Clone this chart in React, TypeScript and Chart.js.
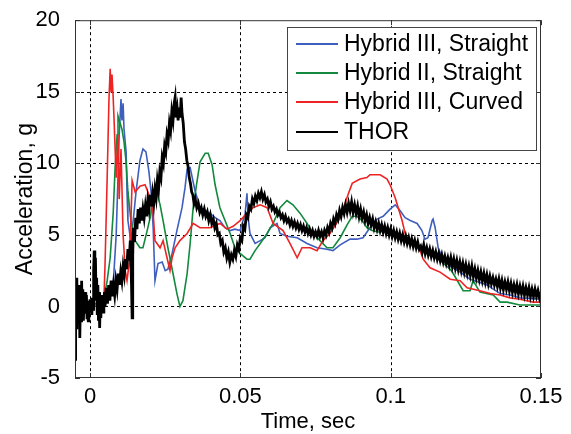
import React, { useEffect, useRef } from 'react';
import { Chart, registerables } from 'chart.js';

Chart.register(...registerables);

const FONT = '"Liberation Sans", Arial, sans-serif';

const xTicks = [0, 0.05, 0.1, 0.15];
const yTicks = [-5, 0, 5, 10, 15, 20];
const xTitle = 'Time, sec';
const yTitle = 'Acceleration, g';
const seriesNames = ['Hybrid III, Straight', 'Hybrid II, Straight', 'Hybrid III, Curved', 'THOR'];
const seriesColors = ['#3f5fbf', '#12893c', '#ee2424', '#000000'];

// [time (s), acceleration (g)]
const hybrid3Straight: [number, number][] = [
  [-0.005, 0.1], [0.0043, 0.0], [0.0057, 1.0], [0.0077, 1.5], [0.0087, 5.0], [0.0093, 9.0], [0.0097, 12.0],
  [0.0103, 14.5], [0.0106, 13.0], [0.011, 14.2], [0.0113, 12.4], [0.012, 10.8], [0.0123, 8.0], [0.0126, 6.0],
  [0.0136, 4.5], [0.0146, 6.5], [0.0153, 8.0], [0.0166, 10.2], [0.0176, 11.0], [0.0186, 10.8], [0.0196, 9.4],
  [0.0203, 8.0], [0.021, 5.5], [0.0216, 1.8], [0.0226, 3.0], [0.024, 3.1], [0.025, 2.5], [0.0259, 2.6],
  [0.0273, 3.7], [0.0289, 5.3], [0.0306, 6.9], [0.0316, 8.3], [0.0323, 9.6], [0.0333, 9.7], [0.0349, 8.1],
  [0.0366, 6.9], [0.0399, 6.5], [0.0416, 6.2], [0.0432, 6.0], [0.0449, 5.5], [0.0466, 5.3], [0.0482, 5.4],
  [0.0499, 5.3], [0.0516, 6.5], [0.0522, 7.9], [0.0526, 6.2], [0.0532, 5.1], [0.0549, 4.4], [0.0566, 4.6],
  [0.0582, 4.8], [0.0599, 5.5], [0.0622, 5.8], [0.0632, 5.1], [0.0655, 4.9], [0.0689, 4.8], [0.0722, 4.4],
  [0.0755, 4.1], [0.0788, 4.0], [0.0808, 3.9], [0.0832, 4.3], [0.0865, 4.7], [0.0888, 4.7], [0.0908, 4.8],
  [0.0931, 5.5], [0.0955, 6.1], [0.0975, 6.3], [0.0998, 6.8], [0.1015, 7.1], [0.1031, 6.7], [0.1048, 6.2],
  [0.1065, 6.0], [0.1088, 5.8], [0.1104, 5.3], [0.1114, 4.7], [0.1124, 4.8], [0.1138, 6.0], [0.1141, 6.1],
  [0.1148, 5.5], [0.1158, 4.1], [0.1174, 3.3], [0.1198, 2.8], [0.1231, 2.4], [0.1264, 1.9], [0.1321, 1.5],
  [0.1364, 0.9], [0.1397, 0.8], [0.143, 0.6], [0.15, 0.5],
];

const hybrid2Straight: [number, number][] = [
  [-0.005, 0.1], [0.0043, 0.2], [0.0057, 1.8], [0.0067, 3.4], [0.0077, 6.5], [0.0083, 9.5], [0.009, 12.0],
  [0.0093, 13.3], [0.01, 12.8], [0.0106, 12.4], [0.0113, 11.5], [0.012, 10.1], [0.0126, 8.0], [0.0136, 6.0],
  [0.015, 4.6], [0.0166, 4.1], [0.0176, 4.1], [0.019, 5.3], [0.02, 6.2], [0.021, 7.6], [0.022, 8.2],
  [0.0233, 7.1], [0.0243, 6.0], [0.0259, 4.1], [0.0276, 2.3], [0.0289, 0.9], [0.0299, 0.0], [0.0309, 0.4],
  [0.0323, 2.3], [0.0333, 4.4], [0.0343, 6.9], [0.0356, 8.75], [0.0366, 10.1], [0.0383, 10.7], [0.0393, 10.7],
  [0.0406, 9.9], [0.0416, 8.5], [0.0432, 6.9], [0.0449, 6.0], [0.0466, 5.1], [0.0482, 4.1], [0.0499, 3.7],
  [0.0522, 3.3], [0.0532, 3.3], [0.0549, 3.9], [0.0566, 4.4], [0.0589, 5.1], [0.0609, 5.8], [0.0632, 6.9],
  [0.0655, 7.4], [0.0675, 7.1], [0.0699, 6.5], [0.0722, 5.8], [0.0742, 5.1], [0.0765, 4.6], [0.0788, 4.1],
  [0.0808, 4.1], [0.0832, 4.8], [0.0855, 5.7], [0.0872, 6.3], [0.0888, 6.3], [0.0905, 6.0], [0.0921, 5.5],
  [0.0938, 5.3], [0.0958, 5.2], [0.0998, 5.3], [0.1048, 4.9], [0.1098, 4.1], [0.1148, 3.5], [0.1198, 2.6],
  [0.1208, 2.3], [0.1241, 1.1], [0.1264, 1.1], [0.1274, 1.8], [0.1297, 1.0], [0.1341, 0.8], [0.1364, 0.3],
  [0.1387, 0.3], [0.143, 0.1], [0.15, 0.1],
];

const hybrid3Curved: [number, number][] = [
  [-0.005, 0.2], [0.004, 0.2], [0.0047, 1.0], [0.005, 3.0], [0.0057, 9.0], [0.0063, 14.5], [0.0067, 16.6],
  [0.007, 15.0], [0.0073, 16.2], [0.0077, 14.6], [0.008, 13.0], [0.0087, 9.0], [0.0093, 12.0], [0.0097, 7.5],
  [0.0103, 11.0], [0.011, 5.0], [0.0117, 2.5], [0.0123, 1.8], [0.013, 3.0], [0.0136, 6.0], [0.014, 8.8],
  [0.015, 8.0], [0.0166, 8.4], [0.0183, 8.5], [0.02, 7.6], [0.021, 6.5], [0.0216, 4.6], [0.0233, 4.1],
  [0.0243, 4.6], [0.0256, 3.4], [0.0266, 2.5], [0.0273, 3.4], [0.0283, 4.1], [0.0299, 4.6], [0.0323, 5.1],
  [0.0343, 5.8], [0.0366, 5.5], [0.0399, 5.5], [0.0432, 5.8], [0.0456, 5.4], [0.0476, 5.6], [0.0499, 6.0],
  [0.0522, 6.5], [0.0542, 6.9], [0.0566, 7.1], [0.0589, 6.9], [0.0609, 5.8], [0.0642, 5.3], [0.0665, 4.4],
  [0.0689, 3.4], [0.0705, 4.1], [0.0732, 4.1], [0.0755, 3.9], [0.0775, 4.6], [0.0798, 5.1], [0.0832, 6.2],
  [0.0858, 7.8], [0.0872, 8.6], [0.0898, 8.9], [0.0921, 9.0], [0.0931, 9.2], [0.0965, 9.2], [0.0988, 8.9],
  [0.0998, 8.5], [0.1015, 7.6], [0.1025, 6.9], [0.1038, 6.0], [0.1048, 5.1], [0.1065, 4.4], [0.1088, 4.2],
  [0.1098, 3.9], [0.1108, 3.3], [0.1131, 2.7], [0.1164, 2.4], [0.1198, 1.9], [0.1231, 1.8], [0.1254, 1.3],
  [0.1297, 1.1], [0.1331, 0.9], [0.1364, 0.8], [0.1397, 0.6], [0.143, 0.5], [0.1474, 0.3], [0.15, 0.3],
];

const thor: [number, number][] = [
  [-0.005, -3.7], [-0.0048, 1.0], [-0.0046, -1.5], [-0.0044, 2.0], [-0.0042, -0.5], [-0.004, 0.8], [-0.0038, -1.2],
  [-0.0036, 1.5], [-0.0034, -2.2], [-0.0032, 0.5], [-0.003, -1.0], [-0.0028, 1.8], [-0.0026, -0.3], [-0.0024, 1.2],
  [-0.0022, -1.0], [-0.002, 0.6], [-0.0018, -0.5], [-0.0016, 1.0], [-0.0014, -0.2], [-0.0012, 0.8], [-0.001, -0.8],
  [-0.0008, 0.4], [-0.0006, -1.0], [-0.0004, 0.2], [-0.0002, -0.3], [0.0, 0.5], [0.0002, -0.4], [0.0004, 0.3],
  [0.0006, -0.6], [0.0008, 0.6], [0.001, -0.2], [0.0012, 2.5], [0.0014, 3.9], [0.0016, 1.0], [0.0018, 3.4],
  [0.002, 0.5], [0.0022, 2.0], [0.0024, -0.5], [0.0026, 1.5], [0.0028, -1.0], [0.003, 1.0], [0.0032, -1.5],
  [0.0034, 0.5], [0.0036, -0.8], [0.0038, 0.8], [0.004, -0.3], [0.0042, 0.6], [0.0044, -0.4], [0.0046, 0.2],
  [0.0048, 1.0], [0.005, 0.0], [0.0054, 1.3], [0.0058, 0.2], [0.0062, 1.5], [0.0066, 0.4], [0.007, 1.8],
  [0.0074, 0.7], [0.0078, 1.5], [0.0082, 0.8], [0.0086, 1.8], [0.009, 1.2], [0.0094, 2.3], [0.0098, 1.5],
  [0.0102, 2.4], [0.0106, 1.8], [0.011, 2.8], [0.0114, 2.2], [0.0118, 3.3], [0.0122, 2.6], [0.0126, 4.0],
  [0.013, 3.2], [0.0134, 4.6], [0.0138, 1.5], [0.014, -0.8], [0.0142, 3.5], [0.0144, 5.5], [0.0148, 4.5],
  [0.0152, 6.2], [0.0156, 5.4], [0.016, 6.8], [0.0164, 5.8], [0.0168, 6.9], [0.0172, 6.0], [0.0176, 6.8],
  [0.018, 6.2], [0.0184, 7.0], [0.0188, 6.3], [0.0192, 7.4], [0.0196, 6.8], [0.02, 7.8], [0.0204, 7.0],
  [0.0208, 7.9], [0.0212, 7.2], [0.0216, 8.2], [0.022, 7.6], [0.0224, 8.8], [0.0228, 8.2], [0.0232, 9.4],
  [0.0236, 9.0], [0.024, 10.4], [0.0244, 10.0], [0.0248, 11.2], [0.0252, 10.8], [0.0256, 12.0], [0.026, 11.6],
  [0.0264, 12.8], [0.0268, 12.3], [0.0272, 13.6], [0.0276, 13.0], [0.028, 14.2], [0.0283, 14.6], [0.0286, 13.2],
  [0.029, 13.8], [0.0293, 13.0], [0.0296, 13.9], [0.03, 13.2], [0.0303, 14.6], [0.0306, 13.5], [0.031, 12.8],
  [0.0314, 11.5], [0.0318, 11.0], [0.0322, 10.2], [0.0326, 9.8], [0.033, 9.0], [0.0334, 8.6], [0.0338, 8.0],
  [0.0342, 7.8], [0.0346, 7.2], [0.035, 7.5], [0.0355, 6.9], [0.036, 7.2], [0.0365, 6.6], [0.037, 6.9],
  [0.0375, 6.4], [0.038, 6.8], [0.0385, 6.3], [0.039, 6.6], [0.0395, 6.0], [0.04, 6.4], [0.0405, 5.8],
  [0.041, 6.1], [0.0415, 5.5], [0.042, 5.8], [0.0425, 5.0], [0.043, 5.1], [0.0435, 4.4], [0.044, 4.6],
  [0.0445, 3.8], [0.045, 4.1], [0.0455, 3.4], [0.046, 3.8], [0.0465, 3.1], [0.047, 3.6], [0.0475, 3.3],
  [0.048, 3.9], [0.0485, 3.5], [0.049, 4.3], [0.0495, 4.0], [0.05, 4.8], [0.0505, 4.6], [0.051, 5.6],
  [0.0515, 5.4], [0.052, 6.4], [0.0525, 6.2], [0.053, 7.0], [0.0535, 6.8], [0.054, 7.5], [0.0545, 7.2],
  [0.055, 7.7], [0.0555, 7.4], [0.056, 7.9], [0.0565, 7.6], [0.057, 8.0], [0.0575, 7.5], [0.058, 7.8],
  [0.0585, 7.3], [0.059, 7.5], [0.0595, 7.0], [0.06, 7.3], [0.0605, 6.8], [0.061, 7.0], [0.0615, 6.6],
  [0.062, 6.8], [0.0625, 6.4], [0.063, 6.6], [0.0635, 6.2], [0.064, 6.4], [0.0645, 6.0], [0.065, 6.3],
  [0.0655, 5.9], [0.066, 6.1], [0.0665, 5.7], [0.067, 6.0], [0.0675, 5.6], [0.068, 5.9], [0.0685, 5.5],
  [0.069, 5.8], [0.0695, 5.4], [0.07, 5.7], [0.0705, 5.3], [0.071, 5.6], [0.0715, 5.2], [0.072, 5.5],
  [0.0725, 5.1], [0.073, 5.4], [0.0735, 5.0], [0.074, 5.3], [0.0745, 4.9], [0.075, 5.2], [0.0755, 4.9],
  [0.076, 5.3], [0.0765, 4.9], [0.077, 5.2], [0.0775, 4.8], [0.078, 5.3], [0.0785, 5.0], [0.079, 5.5],
  [0.0795, 5.2], [0.08, 5.8], [0.0805, 5.5], [0.081, 6.1], [0.0815, 5.8], [0.082, 6.4], [0.0825, 6.1],
  [0.083, 6.7], [0.0835, 6.3], [0.084, 6.9], [0.0845, 6.5], [0.085, 7.1], [0.0855, 6.6], [0.086, 7.2],
  [0.0865, 6.7], [0.087, 7.3], [0.0875, 6.6], [0.088, 7.1], [0.0885, 6.5], [0.089, 7.0], [0.0895, 6.3],
  [0.09, 6.8], [0.0905, 6.2], [0.091, 6.6], [0.0915, 6.0], [0.092, 6.4], [0.0925, 5.8], [0.093, 6.2],
  [0.0935, 5.7], [0.094, 6.1], [0.0945, 5.5], [0.095, 5.9], [0.0955, 5.4], [0.096, 5.8], [0.0965, 5.3],
  [0.097, 5.7], [0.0975, 5.2], [0.098, 5.6], [0.0985, 5.1], [0.099, 5.5], [0.0995, 5.0], [0.1, 5.4],
  [0.1005, 4.9], [0.101, 5.3], [0.1015, 4.8], [0.102, 5.2], [0.1025, 4.7], [0.103, 5.1], [0.1035, 4.6],
  [0.104, 5.0], [0.1045, 4.5], [0.105, 4.9], [0.1055, 4.4], [0.106, 4.8], [0.1065, 4.3], [0.107, 4.7],
  [0.1075, 4.2], [0.108, 4.6], [0.1085, 4.1], [0.109, 4.5], [0.1095, 4.0], [0.11, 4.2], [0.1105, 3.8],
  [0.111, 4.3], [0.1115, 3.7], [0.112, 4.1], [0.1125, 3.6], [0.113, 4.0], [0.1135, 3.5], [0.114, 3.9],
  [0.1145, 3.4], [0.115, 3.8], [0.1155, 3.3], [0.116, 3.7], [0.1165, 3.2], [0.117, 3.6], [0.1175, 3.1],
  [0.118, 3.5], [0.1185, 3.0], [0.119, 3.4], [0.1195, 2.9], [0.12, 3.4], [0.1205, 2.8], [0.121, 3.3],
  [0.1215, 2.7], [0.122, 3.2], [0.1225, 2.6], [0.123, 3.1], [0.1235, 2.5], [0.124, 3.0], [0.1245, 2.4],
  [0.125, 2.9], [0.1255, 2.3], [0.126, 2.8], [0.1265, 2.2], [0.127, 2.8], [0.1275, 2.1], [0.128, 2.6],
  [0.1285, 2.0], [0.129, 2.5], [0.1295, 1.9], [0.13, 2.4], [0.1305, 1.8], [0.131, 2.3], [0.1315, 1.7],
  [0.132, 2.2], [0.1325, 1.6], [0.133, 2.1], [0.1335, 1.6], [0.134, 2.0], [0.1345, 1.5], [0.135, 1.9],
  [0.1355, 1.4], [0.136, 1.9], [0.1365, 1.3], [0.137, 1.8], [0.1375, 1.2], [0.138, 1.7], [0.1385, 1.2],
  [0.139, 1.7], [0.1395, 1.1], [0.14, 1.6], [0.1405, 1.0], [0.141, 1.5], [0.1415, 1.0], [0.142, 1.5],
  [0.1425, 0.9], [0.143, 1.4], [0.1435, 0.9], [0.144, 1.4], [0.1445, 0.8], [0.145, 1.3], [0.1455, 0.8],
  [0.146, 1.3], [0.1465, 0.7], [0.147, 1.2], [0.1475, 0.7], [0.148, 1.2], [0.1485, 0.7], [0.149, 1.1],
  [0.1495, 0.6], [0.15, 1.0],
];

const seriesData = [hybrid3Straight, hybrid2Straight, hybrid3Curved, thor];
const seriesWidths = [1.6, 1.6, 1.6, 2.8];
const seriesOrder = [3, 2, 1, 0];

const framePlugin = {
  id: 'matlabFrame',
  beforeDatasetsDraw(chart: any) {
    const { ctx, chartArea: a, scales } = chart;
    const x = scales.x;
    const y = scales.y;
    ctx.save();
    ctx.strokeStyle = '#000';
    ctx.lineWidth = 1;
    ctx.setLineDash([3, 3]);
    for (const v of xTicks) {
      const px = Math.round(x.getPixelForValue(v)) + 0.5;
      if (px > a.left + 2 && px < a.right - 2) {
        ctx.beginPath();
        ctx.moveTo(px, a.top);
        ctx.lineTo(px, a.bottom);
        ctx.stroke();
      }
    }
    for (const v of yTicks) {
      const py = Math.round(y.getPixelForValue(v)) + 0.5;
      if (py > a.top + 2 && py < a.bottom - 2) {
        ctx.beginPath();
        ctx.moveTo(a.left, py);
        ctx.lineTo(a.right, py);
        ctx.stroke();
      }
    }
    ctx.setLineDash([]);
    ctx.strokeStyle = '#333';
    for (const v of xTicks) {
      const px = Math.round(x.getPixelForValue(v)) + 0.5;
      ctx.beginPath();
      ctx.moveTo(px, a.bottom);
      ctx.lineTo(px, a.bottom - 5);
      ctx.moveTo(px, a.top);
      ctx.lineTo(px, a.top + 5);
      ctx.stroke();
    }
    for (const v of yTicks) {
      const py = Math.round(y.getPixelForValue(v)) + 0.5;
      ctx.beginPath();
      ctx.moveTo(a.left, py);
      ctx.lineTo(a.left + 5, py);
      ctx.moveTo(a.right, py);
      ctx.lineTo(a.right - 5, py);
      ctx.stroke();
    }
    ctx.restore();
  },
  afterDatasetsDraw(chart: any) {
    const { ctx, chartArea: a } = chart;
    ctx.save();
    ctx.strokeStyle = '#333';
    ctx.lineWidth = 1;
    ctx.strokeRect(a.left + 0.5, a.top + 0.5, a.right - a.left - 1, a.bottom - a.top - 1);

    // legend box
    const bx = 287, by = 27, bw = 249, bh = 123;
    ctx.fillStyle = '#fff';
    ctx.fillRect(bx, by, bw, bh);
    ctx.strokeStyle = '#444';
    ctx.strokeRect(bx + 0.5, by + 0.5, bw, bh);
    const rows = [44, 73, 102, 132];
    ctx.font = `23px ${FONT}`;
    ctx.textBaseline = 'middle';
    ctx.textAlign = 'left';
    seriesNames.forEach((name, i) => {
      ctx.strokeStyle = seriesColors[i];
      ctx.lineWidth = 2;
      ctx.beginPath();
      ctx.moveTo(296, rows[i]);
      ctx.lineTo(338, rows[i]);
      ctx.stroke();
      ctx.fillStyle = '#000';
      ctx.fillText(name, 344, rows[i] + 1);
    });
    ctx.restore();
  },
};

export default function App() {
  const canvasRef = useRef<HTMLCanvasElement>(null);

  useEffect(() => {
    const canvas = canvasRef.current;
    if (!canvas) return;
    const chart = new Chart(canvas, {
      type: 'line',
      data: {
        datasets: seriesNames.map((name, i) => ({
          label: name,
          data: seriesData[i].map(([t, g]) => ({ x: t, y: g })),
          borderColor: seriesColors[i],
          backgroundColor: seriesColors[i],
          borderWidth: seriesWidths[i],
          pointRadius: 0,
          tension: 0,
          fill: false,
          order: seriesOrder[i],
        })),
      },
      options: {
        responsive: false,
        animation: false,
        layout: { padding: { left: 0, top: 18, right: 30, bottom: 0 } },
        plugins: {
          legend: { display: false },
          tooltip: { enabled: false },
        },
        scales: {
          x: {
            type: 'linear',
            min: -0.005,
            max: 0.15,
            afterBuildTicks: (s: any) => {
              s.ticks = xTicks.map((v) => ({ value: v }));
            },
            afterFit: (s: any) => {
              s.height = 56;
            },
            grid: { display: false },
            border: { display: false },
            ticks: {
              padding: -2,
              color: '#000',
              maxRotation: 0,
              autoSkip: false,
              font: { family: FONT, size: 22 },
              callback: (v: any) => String(v),
            },
            title: {
              display: true,
              text: xTitle,
              color: '#000',
              font: { family: FONT, size: 22 },
              padding: { top: 0, bottom: -1 },
            },
          },
          y: {
            type: 'linear',
            min: -5,
            max: 20,
            afterBuildTicks: (s: any) => {
              s.ticks = yTicks.map((v) => ({ value: v }));
            },
            afterFit: (s: any) => {
              s.width = 75;
            },
            grid: { display: false },
            border: { display: false },
            ticks: {
              padding: 7,
              color: '#000',
              autoSkip: false,
              font: { family: FONT, size: 22 },
              callback: (v: any) => String(v),
            },
            title: {
              display: true,
              text: yTitle,
              color: '#000',
              font: { family: FONT, size: 23 },
              padding: { top: 12, bottom: 0 },
            },
          },
        },
      },
      plugins: [framePlugin],
    });
    return () => chart.destroy();
  }, []);

  return (
    <div style={{ position: 'fixed', left: 0, top: 0, width: 571, height: 434, background: '#fff' }}>
      <canvas ref={canvasRef} width={571} height={434} style={{ display: 'block' }} />
    </div>
  );
}
